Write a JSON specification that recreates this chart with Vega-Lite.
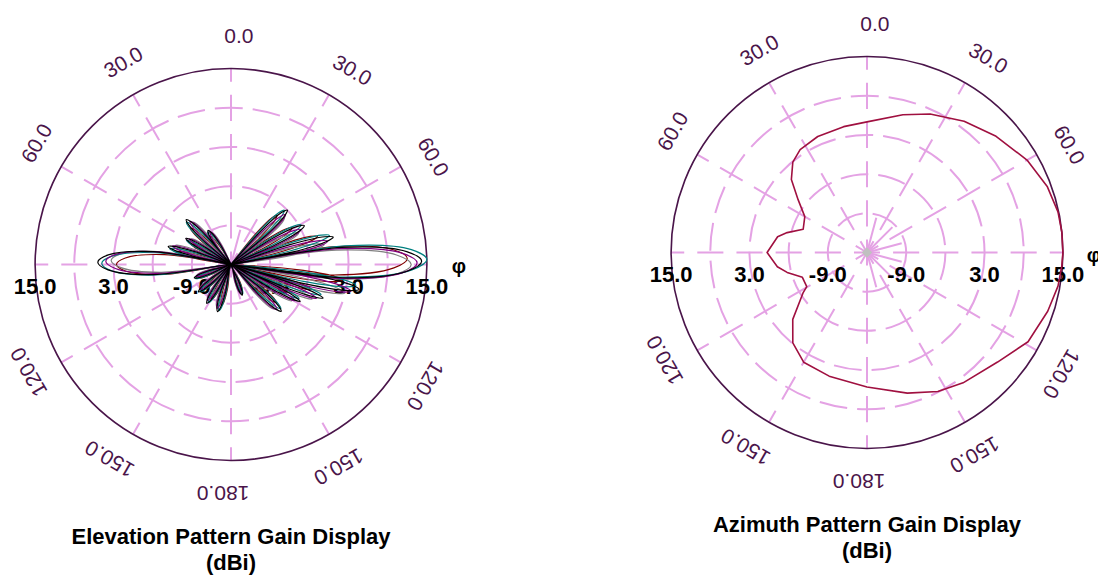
{
  "$schema": "https://vega.github.io/schema/vega-lite/v6.json",
  "padding": 0,
  "spacing": 0,
  "bounds": "flush",
  "background": "white",
  "config": {"view": {"stroke": null}},
  "datasets": {
    "rings": [{"g": -9}, {"g": -3}, {"g": 3}, {"g": 9}],
    "outer": [{"g": 15}],
    "centre": [{"g": -15}],
    "spokes": [{"a": 0}, {"a": 30}, {"a": 60}, {"a": 90}, {"a": 120}, {"a": 150}, {"a": 180}, {"a": 210}, {"a": 240}, {"a": 270}, {"a": 300}, {"a": 330}],
    "fineSpokes": [{"a": 15}, {"a": 45}, {"a": 75}, {"a": 105}, {"a": 135}, {"a": 165}],
    "angleLabels": [
      {"a": 0, "t": "0.0"}, {"a": 30, "t": "30.0"}, {"a": 60, "t": "60.0"},
      {"a": 120, "t": "120.0"}, {"a": 150, "t": "150.0"}, {"a": 180, "t": "180.0"},
      {"a": 210, "t": "150.0"}, {"a": 240, "t": "120.0"}, {"a": 300, "t": "60.0"}, {"a": 330, "t": "30.0"}
    ],
    "gainLabels": [
      {"a": 270, "g": 15, "t": "15.0"}, {"a": 270, "g": 3, "t": "3.0"}, {"a": 270, "g": -9, "t": "-9.0"},
      {"a": 90, "g": -9, "t": "-9.0"}, {"a": 90, "g": 3, "t": "3.0"}, {"a": 90, "g": 15, "t": "15.0"}
    ],
    "axisName": [{"a": 90, "g": 15, "t": "φ"}],
    "elevTitle": [{"t": ["Elevation Pattern Gain Display", "(dBi)"]}],
    "azimTitle": [{"t": ["Azimuth Pattern Gain Display", "(dBi)"]}],
    "elev": [
      {"s": "T5",
       "a": [36, 38.8,41.2,43,44.8,47.2, 52, 54.8,57.2,59,60.8,63.2, 66, 68.4,70.5,72,73.5,75.6, 75, 80.2,84.8,88,91.2,95.8, 92, 94.4,96.5,98,99.5,101.6, 102, 104,105.8,107,108.2,110, 110, 112,113.8,115,116.2,118, 123, 125.8,128.2,130,131.8,134.2, 149, 152.2,155,157,159,161.8, 185, 188.2,191,193,195,197.8, 201, 204.2,207,209,211,213.8, 219, 222.2,225,227,229,231.8, 240, 242.8,245.2,247,248.8,251.2, 256, 261.6,266.5,270,273.5,278.4, 277, 279.4,281.5,283,284.5,286.6, 291, 293.4,295.5,297,298.5,300.6, 305, 307.8,310.2,312,313.8,316.2, 314, 317.6,320.8,323,325.2,328.4, 332],
       "g": [-15, -8.93,-5.46,-4.68,-5.46,-8.93, -15, -8.58,-4.91,-4.08,-4.91,-8.58, -15, -6.81,-2.13,-1.07,-2.13,-6.81, -15, 0.88,9.95,12,9.95,0.88, -15, -4.89,0.89,2.2,0.89,-4.89, -15, -7.41,-3.08,-2.1,-3.08,-7.41, -15, -8.93,-5.46,-4.68,-5.46,-8.93, -15, -9.69,-6.66,-5.97,-6.66,-9.69, -15, -12.47,-11.03,-10.7,-11.03,-12.47, -15, -11.21,-9.04,-8.55,-9.04,-11.21, -15, -11.46,-9.44,-8.98,-9.44,-11.46, -15, -11.71,-9.83,-9.41,-9.83,-11.71, -15, -11.97,-10.23,-9.84,-10.23,-11.97, -15, -4.69,1.21,2.54,1.21,-4.69, -15, -9.94,-7.05,-6.4,-7.05,-9.94, -15, -10.95,-8.64,-8.12,-8.64,-10.95, -15, -10.1,-7.29,-6.66,-7.29,-10.1, -15, -11.81,-9.99,-9.58,-9.99,-11.81, -15]},
      {"s": "T4",
       "a": [42, 44.8,47.2,49,50.8,53.2, 58, 60.8,63.2,65,66.8,69.2, 72, 74.4,76.5,78,79.5,81.6, 77, 82.2,86.8,90,93.2,97.8, 98, 100.4,102.5,104,105.5,107.6, 108, 110,111.8,113,114.2,116, 116, 118,119.8,121,122.2,124, 129, 131.8,134.2,136,137.8,140.2, 155, 158.2,161,163,165,167.8, 191, 194.2,197,199,201,203.8, 207, 210.2,213,215,217,219.8, 225, 228.2,231,233,235,237.8, 246, 248.8,251.2,253,254.8,257.2, 258, 263.6,268.5,272,275.5,280.4, 283, 285.4,287.5,289,290.5,292.6, 297, 299.4,301.5,303,304.5,306.6, 311, 313.8,316.2,318,319.8,322.2, 320, 323.6,326.8,329,331.2,334.4, 338],
       "g": [-15, -8.65,-5.02,-4.2,-5.02,-8.65, -15, -8.28,-4.44,-3.57,-4.44,-8.28, -15, -6.43,-1.53,-0.42,-1.53,-6.43, -15, 1.23,10.5,12.6,10.5,1.23, -15, -4.42,1.63,3,1.63,-4.42, -15, -7.06,-2.53,-1.5,-2.53,-7.06, -15, -8.65,-5.02,-4.2,-5.02,-8.65, -15, -9.44,-6.27,-5.55,-6.27,-9.44, -15, -12.35,-10.84,-10.5,-10.84,-12.35, -15, -11.03,-8.76,-8.25,-8.76,-11.03, -15, -11.3,-9.18,-8.7,-9.18,-11.3, -15, -11.56,-9.59,-9.15,-9.59,-11.56, -15, -11.82,-10.01,-9.6,-10.01,-11.82, -15, -4.2,1.96,3.36,1.96,-4.2, -15, -9.71,-6.68,-6,-6.68,-9.71, -15, -10.77,-8.35,-7.8,-8.35,-10.77, -15, -9.87,-6.93,-6.27,-6.93,-9.87, -15, -11.67,-9.76,-9.33,-9.76,-11.67, -15]},
      {"s": "T3",
       "a": [37.5, 40.3,42.7,44.5,46.3,48.7, 53.5, 56.3,58.7,60.5,62.3,64.7, 67.5, 69.9,72,73.5,75,77.1, 75.5, 80.7,85.3,88.5,91.7,96.3, 93.5, 95.9,98,99.5,101,103.1, 103.5, 105.5,107.3,108.5,109.7,111.5, 111.5, 113.5,115.3,116.5,117.7,119.5, 124.5, 127.3,129.7,131.5,133.3,135.7, 150.5, 153.7,156.5,158.5,160.5,163.3, 186.5, 189.7,192.5,194.5,196.5,199.3, 202.5, 205.7,208.5,210.5,212.5,215.3, 220.5, 223.7,226.5,228.5,230.5,233.3, 241.5, 244.3,246.7,248.5,250.3,252.7, 256.5, 262.1,267,270.5,274,278.9, 278.5, 280.9,283,284.5,286,288.1, 292.5, 294.9,297,298.5,300,302.1, 306.5, 309.3,311.7,313.5,315.3,317.7, 315.5, 319.1,322.3,324.5,326.7,329.9, 333.5],
       "g": [-15, -8.16,-4.24,-3.36,-4.24,-8.16, -15, -7.76,-3.62,-2.68,-3.62,-7.76, -15, -5.76,-0.48,0.71,-0.48,-5.76, -15, 2.64,12.72,15,12.72,2.64, -15, -3.59,2.93,4.4,2.93,-3.59, -15, -6.44,-1.56,-0.45,-1.56,-6.44, -15, -8.16,-4.24,-3.36,-4.24,-8.16, -15, -9.01,-5.58,-4.81,-5.58,-9.01, -15, -12.15,-10.52,-10.15,-10.52,-12.15, -15, -10.72,-8.27,-7.72,-8.27,-10.72, -15, -11.01,-8.73,-8.21,-8.73,-11.01, -15, -11.29,-9.17,-8.69,-9.17,-11.29, -15, -11.58,-9.62,-9.18,-9.62,-11.58, -15, -3.36,3.29,4.79,3.29,-3.36, -15, -9.3,-6.04,-5.3,-6.04,-9.3, -15, -10.44,-7.83,-7.24,-7.83,-10.44, -15, -9.47,-6.31,-5.59,-6.31,-9.47, -15, -11.41,-9.35,-8.89,-9.35,-11.41, -15]},
      {"s": "T2",
       "a": [40.5, 43.3,45.7,47.5,49.3,51.7, 56.5, 59.3,61.7,63.5,65.3,67.7, 70.5, 72.9,75,76.5,78,80.1, 76.5, 81.7,86.3,89.5,92.7,97.3, 96.5, 98.9,101,102.5,104,106.1, 106.5, 108.5,110.3,111.5,112.7,114.5, 114.5, 116.5,118.3,119.5,120.7,122.5, 127.5, 130.3,132.7,134.5,136.3,138.7, 153.5, 156.7,159.5,161.5,163.5,166.3, 189.5, 192.7,195.5,197.5,199.5,202.3, 205.5, 208.7,211.5,213.5,215.5,218.3, 223.5, 226.7,229.5,231.5,233.5,236.3, 244.5, 247.3,249.7,251.5,253.3,255.7, 257.5, 263.1,268,271.5,275,279.9, 281.5, 283.9,286,287.5,289,291.1, 295.5, 297.9,300,301.5,303,305.1, 309.5, 312.3,314.7,316.5,318.3,320.7, 318.5, 322.1,325.3,327.5,329.7,332.9, 336.5],
       "g": [-15, -8.37,-4.58,-3.72,-4.58,-8.37, -15, -7.98,-3.97,-3.06,-3.97,-7.98, -15, -6.04,-0.93,0.23,-0.93,-6.04, -15, 1.76,11.33,13.5,11.33,1.76, -15, -3.95,2.37,3.8,2.37,-3.95, -15, -6.71,-1.97,-0.9,-1.97,-6.71, -15, -8.37,-4.58,-3.72,-4.58,-8.37, -15, -9.2,-5.88,-5.13,-5.88,-9.2, -15, -12.24,-10.66,-10.3,-10.66,-12.24, -15, -10.85,-8.49,-7.95,-8.49,-10.85, -15, -11.13,-8.92,-8.42,-8.92,-11.13, -15, -11.41,-9.35,-8.89,-9.35,-11.41, -15, -11.68,-9.79,-9.36,-9.79,-11.68, -15, -3.72,2.72,4.18,2.72,-3.72, -15, -9.47,-6.31,-5.6,-6.31,-9.47, -15, -10.58,-8.05,-7.48,-8.05,-10.58, -15, -9.64,-6.57,-5.88,-6.57,-9.64, -15, -11.52,-9.53,-9.08,-9.53,-11.52, -15]},
      {"s": "T1",
       "a": [39, 41.8,44.2,46,47.8,50.2, 55, 57.8,60.2,62,63.8,66.2, 69, 71.4,73.5,75,76.5,78.6, 76, 81.2,85.8,89,92.2,96.8, 95, 97.4,99.5,101,102.5,104.6, 105, 107,108.8,110,111.2,113, 113, 115,116.8,118,119.2,121, 126, 128.8,131.2,133,134.8,137.2, 152, 155.2,158,160,162,164.8, 188, 191.2,194,196,198,200.8, 204, 207.2,210,212,214,216.8, 222, 225.2,228,230,232,234.8, 243, 245.8,248.2,250,251.8,254.2, 257, 262.6,267.5,271,274.5,279.4, 280, 282.4,284.5,286,287.5,289.6, 294, 296.4,298.5,300,301.5,303.6, 308, 310.8,313.2,315,316.8,319.2, 317, 320.6,323.8,326,328.2,331.4, 335],
       "g": [-15, -7.94,-3.91,-3,-3.91,-7.94, -15, -7.53,-3.27,-2.3,-3.27,-7.53, -15, -5.47,-0.03,1.2,-0.03,-5.47, -15, 2.17,11.98,14.2,11.98,2.17, -15, -3.24,3.48,5,3.48,-3.24, -15, -6.18,-1.14,0,-1.14,-6.18, -15, -7.94,-3.91,-3,-3.91,-7.94, -15, -8.83,-5.3,-4.5,-5.3,-8.83, -15, -12.06,-10.38,-10,-10.38,-12.06, -15, -10.59,-8.07,-7.5,-8.07,-10.59, -15, -10.88,-8.53,-8,-8.53,-10.88, -15, -11.18,-8.99,-8.5,-8.99,-11.18, -15, -11.47,-9.46,-9,-9.46,-11.47, -15, -3,3.85,5.4,3.85,-3, -15, -9.12,-5.76,-5,-5.76,-9.12, -15, -10.3,-7.61,-7,-7.61,-10.3, -15, -9.3,-6.04,-5.3,-6.04,-9.3, -15, -11.3,-9.18,-8.7,-9.18,-11.3, -15]}
    ],
    "azim": [
      {"a": 0, "g": 5.0}, {"a": 14.6, "g": 6.8}, {"a": 24.5, "g": 8.3}, {"a": 36.5, "g": 10.0},
      {"a": 48, "g": 11.6}, {"a": 60, "g": 13.3}, {"a": 70, "g": 14.4}, {"a": 78, "g": 14.9},
      {"a": 84, "g": 15.0}, {"a": 90, "g": 15.0}, {"a": 94, "g": 14.9}, {"a": 100, "g": 14.7},
      {"a": 108, "g": 14.1}, {"a": 119, "g": 13.2}, {"a": 130, "g": 11.1}, {"a": 143.6, "g": 9.8},
      {"a": 153, "g": 8.9}, {"a": 164, "g": 7.4}, {"a": 180, "g": 5.6}, {"a": 197, "g": 4.8},
      {"a": 210, "g": 4.4}, {"a": 219.4, "g": 2.9}, {"a": 228, "g": 0.3}, {"a": 238, "g": -3.5},
      {"a": 240.5, "g": -4.4}, {"a": 249, "g": -4.4}, {"a": 256, "g": -2.4}, {"a": 261, "g": -1.1},
      {"a": 270, "g": 0.3}, {"a": 280, "g": -1.1}, {"a": 284, "g": -2.4}, {"a": 290, "g": -4.6},
      {"a": 300, "g": -4.0}, {"a": 307.5, "g": -1.7}, {"a": 314, "g": 1.1}, {"a": 320.6, "g": 2.9},
      {"a": 327, "g": 3.8}, {"a": 337, "g": 4.3}, {"a": 349.5, "g": 4.6}, {"a": 360, "g": 5.0}
    ]
  },
  "hconcat": [
    {
      "width": 462,
      "height": 577,
      "encoding": {
        "x": {"field": "x", "type": "quantitative", "scale": {"domain": [-35.375, 35.375], "nice": false, "zero": false}, "axis": null},
        "y": {"field": "y", "type": "quantitative", "scale": {"domain": [-47.856, 40.505], "nice": false, "zero": false}, "axis": null}
      },
      "layer": [
        {
          "data": {"name": "rings"},
          "transform": [{"calculate": "datum.g + 15", "as": "r"}, {"calculate": "0", "as": "x"}, {"calculate": "0", "as": "y"}],
          "mark": {"type": "point", "shape": "circle", "filled": false, "stroke": "#e4a2e4", "strokeWidth": 2, "strokeDash": [28, 10], "opacity": 1},
          "encoding": {
            "size": {"field": "r", "type": "quantitative", "scale": {"type": "pow", "exponent": 2, "domain": [0, 30], "range": [0, 153507]}, "legend": null}
          }
        },
        {
          "data": {"name": "spokes"},
          "transform": [
            {"calculate": "0", "as": "x"}, {"calculate": "0", "as": "y"},
            {"calculate": "30 * sin(datum.a * PI / 180)", "as": "x2"},
            {"calculate": "30 * cos(datum.a * PI / 180)", "as": "y2"}
          ],
          "mark": {"type": "rule", "stroke": "#e4a2e4", "strokeWidth": 2, "strokeDash": [26.1, 13.07], "strokeDashOffset": 13.07},
          "encoding": {"x2": {"field": "x2"}, "y2": {"field": "y2"}}
        },
        {
          "data": {"name": "fineSpokes"},
          "transform": [
            {"calculate": "0", "as": "x"}, {"calculate": "0", "as": "y"},
            {"calculate": "5.5 * sin(datum.a * PI / 180)", "as": "x2"},
            {"calculate": "5.5 * cos(datum.a * PI / 180)", "as": "y2"}
          ],
          "mark": {"type": "rule", "stroke": "#e4a2e4", "strokeWidth": 2},
          "encoding": {"x2": {"field": "x2"}, "y2": {"field": "y2"}}
        },
        {
          "data": {"name": "outer"},
          "transform": [{"calculate": "datum.g + 15", "as": "r"}, {"calculate": "0", "as": "x"}, {"calculate": "0", "as": "y"}],
          "mark": {"type": "point", "shape": "circle", "filled": false, "stroke": "#4a154a", "strokeWidth": 1.6, "opacity": 1},
          "encoding": {
            "size": {"field": "r", "type": "quantitative", "scale": {"type": "pow", "exponent": 2, "domain": [0, 30], "range": [0, 153507]}, "legend": null}
          }
        },
        {
          "data": {"name": "angleLabels"},
          "transform": [
            {"calculate": "34.9 * sin((datum.a + 2) * PI / 180)", "as": "x"},
            {"calculate": "34.9 * cos((datum.a + 2) * PI / 180)", "as": "y"}
          ],
          "mark": {"type": "text", "font": "Liberation Sans", "fontSize": 21, "fill": "#4a154a", "align": "center", "baseline": "middle"},
          "encoding": {"text": {"field": "t"}, "angle": {"field": "a", "type": "quantitative", "scale": null}}
        },
        {
          "data": {"name": "gainLabels"},
          "transform": [{"calculate": "(datum.g + 15) * sin(datum.a * PI / 180)", "as": "x"}, {"calculate": "0", "as": "y"}],
          "mark": {"type": "text", "font": "Liberation Sans", "fontWeight": "bold", "fontSize": 22, "fill": "#000000", "align": "center", "baseline": "middle", "dy": 23},
          "encoding": {"text": {"field": "t"}}
        },
        {
          "data": {"name": "axisName"},
          "transform": [{"calculate": "(datum.g + 15) * sin(datum.a * PI / 180)", "as": "x"}, {"calculate": "0", "as": "y"}],
          "mark": {"type": "text", "font": "Liberation Sans", "fontWeight": "bold", "fontSize": 20, "fill": "#000000", "align": "center", "baseline": "middle", "dx": 32, "dy": 3},
          "encoding": {"text": {"field": "t"}}
        },
        {
          "data": {"name": "elevTitle"},
          "transform": [{"calculate": "0", "as": "x"}, {"calculate": "0", "as": "y"}],
          "mark": {"type": "text", "font": "Liberation Sans", "fontWeight": "bold", "fontSize": 22, "lineHeight": 26, "fill": "#000000", "align": "center", "baseline": "alphabetic", "dy": 280},
          "encoding": {"text": {"field": "t"}}
        },
        {
          "data": {"name": "elev"},
          "transform": [
            {"flatten": ["a", "g"]},
            {"window": [{"op": "row_number", "as": "i"}], "groupby": ["s"]},
            {"calculate": "(datum.g + 15) * sin(datum.a * PI / 180)", "as": "x"},
            {"calculate": "(datum.g + 15) * cos(datum.a * PI / 180)", "as": "y"}
          ],
          "mark": {"type": "line", "strokeWidth": 1.2, "strokeJoin": "round", "interpolate": "catmull-rom"},
          "encoding": {
            "color": {"field": "s", "type": "nominal", "scale": {"domain": ["T1", "T2", "T3", "T4", "T5"], "range": ["#000000", "#800080", "#008080", "#808080", "#800000"]}, "legend": null},
            "order": {"field": "i", "type": "quantitative"}
          }
        }
      ]
    },
    {
      "width": 636,
      "height": 577,
      "encoding": {
        "x": {"field": "x", "type": "quantitative", "scale": {"domain": [-62.021, 35.375], "nice": false, "zero": false}, "axis": null},
        "y": {"field": "y", "type": "quantitative", "scale": {"domain": [-49.694, 38.668], "nice": false, "zero": false}, "axis": null}
      },
      "layer": [
        {
          "data": {"name": "rings"},
          "transform": [{"calculate": "datum.g + 15", "as": "r"}, {"calculate": "0", "as": "x"}, {"calculate": "0", "as": "y"}],
          "mark": {"type": "point", "shape": "circle", "filled": false, "stroke": "#e4a2e4", "strokeWidth": 2, "strokeDash": [28, 10], "opacity": 1},
          "encoding": {
            "size": {"field": "r", "type": "quantitative", "scale": {"type": "pow", "exponent": 2, "domain": [0, 30], "range": [0, 153507]}, "legend": null}
          }
        },
        {
          "data": {"name": "spokes"},
          "transform": [
            {"calculate": "0", "as": "x"}, {"calculate": "0", "as": "y"},
            {"calculate": "30 * sin(datum.a * PI / 180)", "as": "x2"},
            {"calculate": "30 * cos(datum.a * PI / 180)", "as": "y2"}
          ],
          "mark": {"type": "rule", "stroke": "#e4a2e4", "strokeWidth": 2, "strokeDash": [26.1, 13.07], "strokeDashOffset": 13.07},
          "encoding": {"x2": {"field": "x2"}, "y2": {"field": "y2"}}
        },
        {
          "data": {"name": "fineSpokes"},
          "transform": [
            {"calculate": "0", "as": "x"}, {"calculate": "0", "as": "y"},
            {"calculate": "5.5 * sin(datum.a * PI / 180)", "as": "x2"},
            {"calculate": "5.5 * cos(datum.a * PI / 180)", "as": "y2"}
          ],
          "mark": {"type": "rule", "stroke": "#e4a2e4", "strokeWidth": 2},
          "encoding": {"x2": {"field": "x2"}, "y2": {"field": "y2"}}
        },
        {
          "data": {"name": "outer"},
          "transform": [{"calculate": "datum.g + 15", "as": "r"}, {"calculate": "0", "as": "x"}, {"calculate": "0", "as": "y"}],
          "mark": {"type": "point", "shape": "circle", "filled": false, "stroke": "#4a154a", "strokeWidth": 1.6, "opacity": 1},
          "encoding": {
            "size": {"field": "r", "type": "quantitative", "scale": {"type": "pow", "exponent": 2, "domain": [0, 30], "range": [0, 153507]}, "legend": null}
          }
        },
        {
          "data": {"name": "centre"},
          "transform": [{"calculate": "0", "as": "x"}, {"calculate": "0", "as": "y"}],
          "mark": {"type": "point", "shape": "diamond", "filled": true, "fill": "#c0c0c0", "size": 110, "opacity": 1}
        },
        {
          "data": {"name": "angleLabels"},
          "transform": [
            {"calculate": "34.9 * sin((datum.a + 2) * PI / 180)", "as": "x"},
            {"calculate": "34.9 * cos((datum.a + 2) * PI / 180)", "as": "y"}
          ],
          "mark": {"type": "text", "font": "Liberation Sans", "fontSize": 21, "fill": "#4a154a", "align": "center", "baseline": "middle"},
          "encoding": {"text": {"field": "t"}, "angle": {"field": "a", "type": "quantitative", "scale": null}}
        },
        {
          "data": {"name": "gainLabels"},
          "transform": [{"calculate": "(datum.g + 15) * sin(datum.a * PI / 180)", "as": "x"}, {"calculate": "0", "as": "y"}],
          "mark": {"type": "text", "font": "Liberation Sans", "fontWeight": "bold", "fontSize": 22, "fill": "#000000", "align": "center", "baseline": "middle", "dy": 22},
          "encoding": {"text": {"field": "t"}}
        },
        {
          "data": {"name": "axisName"},
          "transform": [{"calculate": "(datum.g + 15) * sin(datum.a * PI / 180)", "as": "x"}, {"calculate": "0", "as": "y"}],
          "mark": {"type": "text", "font": "Liberation Sans", "fontWeight": "bold", "fontSize": 20, "fill": "#000000", "align": "center", "baseline": "middle", "dx": 31, "dy": 3},
          "encoding": {"text": {"field": "t"}}
        },
        {
          "data": {"name": "azimTitle"},
          "transform": [{"calculate": "0", "as": "x"}, {"calculate": "0", "as": "y"}],
          "mark": {"type": "text", "font": "Liberation Sans", "fontWeight": "bold", "fontSize": 22, "lineHeight": 26, "fill": "#000000", "align": "center", "baseline": "alphabetic", "dy": 279},
          "encoding": {"text": {"field": "t"}}
        },
        {
          "data": {"name": "azim"},
          "transform": [
            {"calculate": "(datum.g + 15) * sin(datum.a * PI / 180)", "as": "x"},
            {"calculate": "(datum.g + 15) * cos(datum.a * PI / 180)", "as": "y"}
          ],
          "mark": {"type": "line", "stroke": "#a01040", "strokeWidth": 1.6, "strokeJoin": "round"},
          "encoding": {"order": {"field": "a", "type": "quantitative"}}
        }
      ]
    }
  ]
}
